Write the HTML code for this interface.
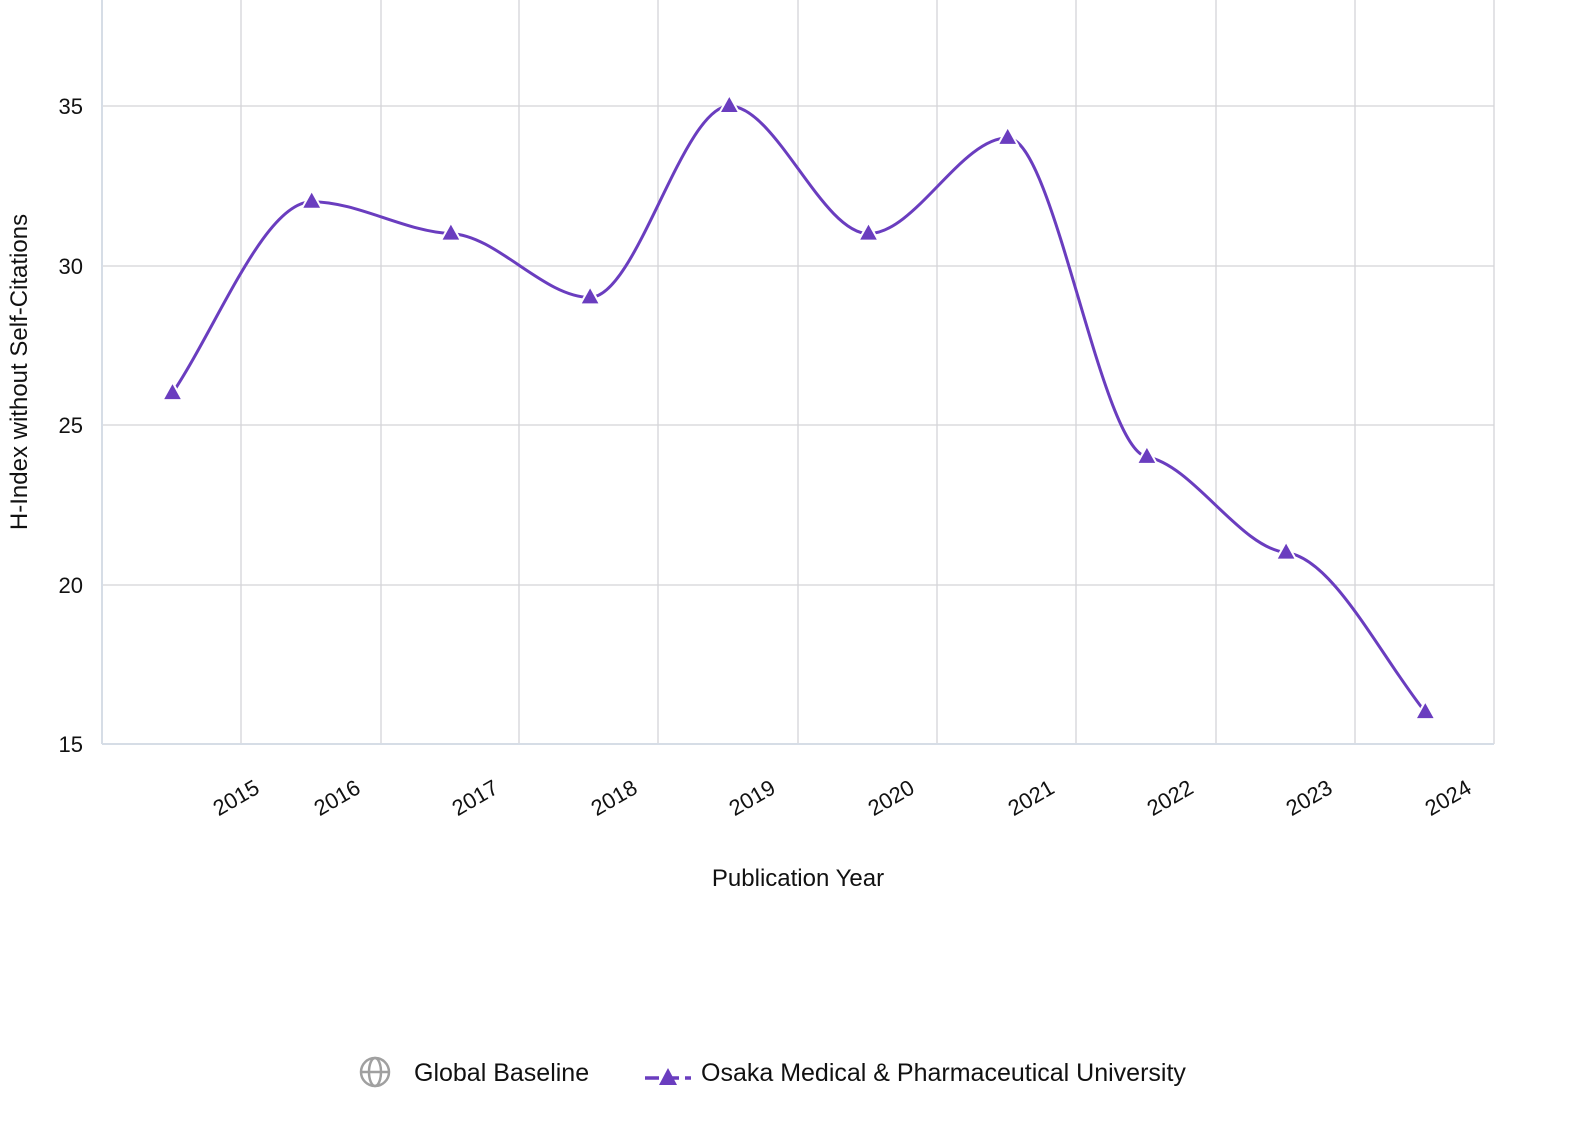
<!DOCTYPE html>
<html><head><meta charset="utf-8"><style>
body{margin:0;background:#fff;}
svg text{font-family:"Liberation Sans",sans-serif;fill:#111;}
</style></head><body>
<svg id="s" width="1584" height="1138" viewBox="0 0 1584 1138" xmlns="http://www.w3.org/2000/svg">
<g stroke="#d4d4d8" stroke-width="1.3" id="grid"></g>
<line x1="102" y1="0" x2="102" y2="744" stroke="#d6dde6" stroke-width="2"/>
<line x1="102" y1="744" x2="1494" y2="744" stroke="#d6dde6" stroke-width="2"/>
<g font-size="22" text-anchor="end">
<text x="83" y="114">35</text><text x="83" y="274">30</text><text x="83" y="433">25</text><text x="83" y="593">20</text><text x="83" y="752">15</text>
</g>
<g id="xl" font-size="22" text-anchor="end"></g>
<text x="798" y="886" font-size="24" text-anchor="middle">Publication Year</text>
<text transform="translate(27,372) rotate(-90)" font-size="24" text-anchor="middle">H-Index without Self-Citations</text>
<path id="line" fill="none" stroke="#6a3dbf" stroke-width="3"/>
<g id="mk" fill="#6a3dbf" stroke="#fff" stroke-width="2"></g>
<g transform="translate(375,1072)" fill="none" stroke="#a0a0a0" stroke-width="2.5">
<circle r="14"/><ellipse rx="6" ry="14"/><line x1="-14" y1="0" x2="14" y2="0"/>
</g>
<text x="414" y="1081" font-size="25">Global Baseline</text>
<line x1="645" y1="1078" x2="691" y2="1078" stroke="#6a3dbf" stroke-width="3.5" stroke-dasharray="14,6"/>
<polygon points="668,1068 677,1085 659,1085" fill="#6a3dbf"/>
<text x="701" y="1081" font-size="25">Osaka Medical &amp; Pharmaceutical University</text>
</svg>
<script>
var ns="http://www.w3.org/2000/svg";
function el(p,t,a){var e=document.createElementNS(ns,t);for(var k in a)e.setAttribute(k,a[k]);document.getElementById(p).appendChild(e);return e;}
[241,381,519,658,798,937,1076,1216,1355,1494].forEach(function(x){el("grid","line",{x1:x,y1:0,x2:x,y2:744});});
[106,266,425,585].forEach(function(y){el("grid","line",{x1:102,y1:y,x2:1494,y2:y});});
var ends=[261,362,500,639,777,916,1056,1195,1334,1473];
ends.forEach(function(x,i){var t=el("xl","text",{transform:"translate("+x+",792) rotate(-30)"});t.textContent=2015+i;});
var d=[26,32,31,29,35,31,34,24,21,16];
var X=d.map(function(v,i){return 172.5+i*139.2;}),Y=d.map(function(v){return 744-(v-15)*31.9;});
var n=X.length,m=[],s=[];
for(var i=0;i<n-1;i++)s.push((Y[i+1]-Y[i])/(X[i+1]-X[i]));
for(i=1;i<n-1;i++){var a=s[i-1],b=s[i];m[i]=(a*b<=0)?0:0.12*(a+b)/2;}
m[0]=s[0]*1.1;m[n-1]=s[n-2]*1.1;
var p="M"+X[0]+","+Y[0];
for(i=0;i<n-1;i++){var h=(X[i+1]-X[i])/3;p+="C"+(X[i]+h)+","+(Y[i]+h*m[i])+","+(X[i+1]-h)+","+(Y[i+1]-h*m[i+1])+","+X[i+1]+","+Y[i+1];}
document.getElementById("line").setAttribute("d",p);
for(i=0;i<n;i++)el("mk","polygon",{points:X[i]+","+(Y[i]-11)+" "+(X[i]+10)+","+(Y[i]+7)+" "+(X[i]-10)+","+(Y[i]+7)});
</script>
</body></html>
